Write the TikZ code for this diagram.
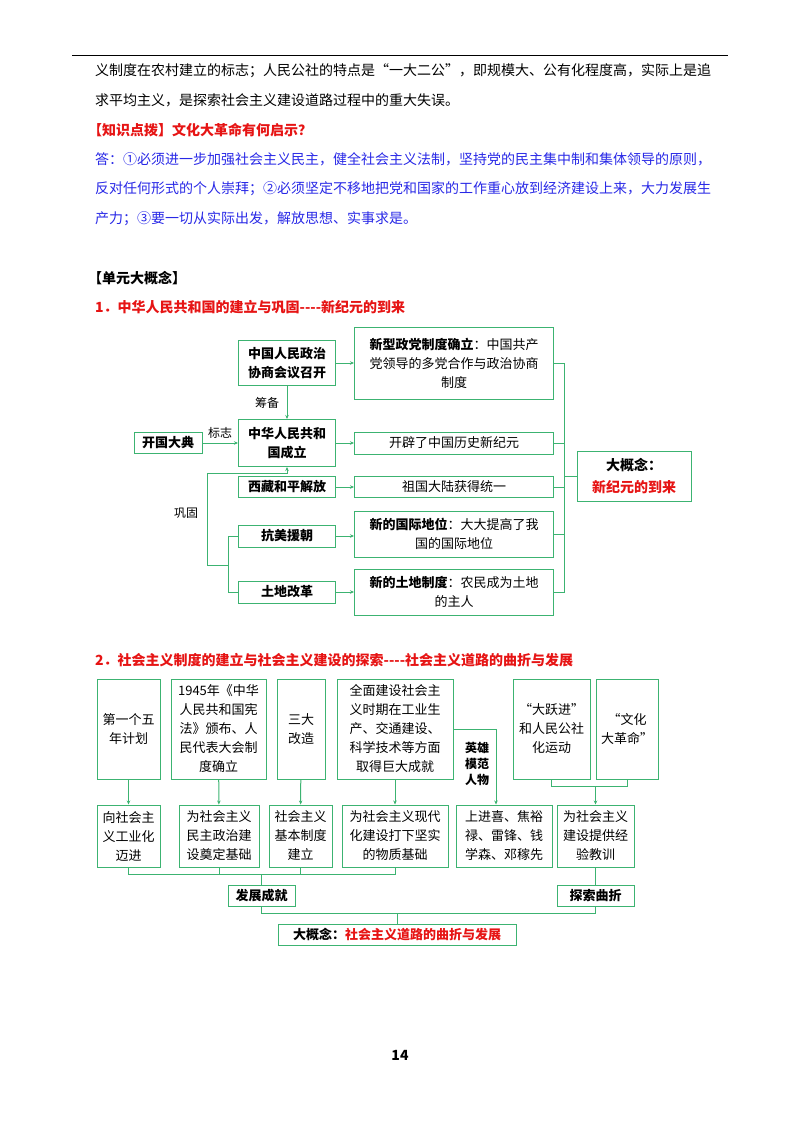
\documentclass[tikz,border=0pt]{standalone}
\usepackage{fontspec}
\setmainfont{Noto Sans CJK SC}
\usetikzlibrary{arrows.meta,positioning}
\definecolor{pgreen}{RGB}{60,179,113}
\definecolor{pred}{RGB}{230,20,20}
\definecolor{pblue}{RGB}{40,40,230}
\tikzset{
  gbox/.style={draw=pgreen, line width=1pt, align=center, inner sep=1pt, font=\fontsize{13}{19}\selectfont},
  bbox/.style={gbox, font=\fontsize{13}{19}\selectfont\bfseries},
  gline/.style={draw=pgreen, line width=1pt},
  garrow/.style={gline, -{Stealth[length=4pt,width=3.5pt]}},
  para/.style={anchor=west, inner sep=0pt, font=\fontsize{14}{14}\selectfont},
  lbl/.style={inner sep=0pt, font=\fontsize{12}{15}\selectfont, align=center}
}
\begin{document}
\begin{tikzpicture}[x=1pt,y=-1pt]
\useasboundingbox (0,0) rectangle (800,1132);

% page text
\draw[line width=0.6pt] (72,55) -- (728,55);
\node[para] (t1) at (95,71) {义制度在农村建立的标志；人民公社的特点是“一大二公”，即规模大、公有化程度高，实际上是追};
\node[para] (t2) at (95,100) {求平均主义，是探索社会主义建设道路过程中的重大失误。};
\node[para, text=pred, font=\fontsize{14}{14}\selectfont\bfseries] (t3) at (88,130) {【知识点拨】文化大革命有何启示？};
\node[para, text=pblue] (t4) at (95,159) {答：①必须进一步加强社会主义民主，健全社会主义法制，坚持党的民主集中制和集体领导的原则，};
\node[para, text=pblue] (t5) at (95,189) {反对任何形式的个人崇拜；②必须坚定不移地把党和国家的工作重心放到经济建设上来，大力发展生};
\node[para, text=pblue] (t6) at (95,219) {产力；③要一切从实际出发，解放思想、实事求是。};
\node[para, font=\fontsize{14}{14}\selectfont\bfseries] (t7) at (88,278) {【单元大概念】};
\node[para, text=pred, font=\fontsize{14}{14}\selectfont\bfseries] (t8) at (95,307) {1．中华人民共和国的建立与巩固{-}{-}{-}{-}新纪元的到来};
\node[para, text=pred, font=\fontsize{14}{14}\selectfont\bfseries] (t9) at (95,660) {2．社会主义制度的建立与社会主义建设的探索{-}{-}{-}{-}社会主义道路的曲折与发展};
\node[inner sep=0pt, font=\fontsize{14}{14}\selectfont\bfseries] (pg) at (400,1055) {14};

% diagram 1
\node[bbox, minimum width=97, minimum height=45] (zx) at (287,363) {中国人民政治\\协商会议召开};
\node[gbox, minimum width=199, minimum height=72] (xx) at (454,363) {\textbf{新型政党制度确立}：中国共产\\党领导的多党合作与政治协商\\制度};
\node[bbox, minimum width=97, minimum height=47] (zh) at (287,443) {中华人民共和\\国成立};
\node[gbox, minimum width=199, minimum height=22] (kp) at (454,443) {开辟了中国历史新纪元};
\node[bbox, minimum width=68, minimum height=21] (kg) at (168,443) {开国大典};
\node[bbox, minimum width=97, minimum height=21] (xz) at (287,487) {西藏和平解放};
\node[gbox, minimum width=199, minimum height=21] (zg) at (454,487) {祖国大陆获得统一};
\node[bbox, minimum width=97, minimum height=22] (km) at (287,536) {抗美援朝};
\node[gbox, minimum width=199, minimum height=46] (gj) at (454,534) {\textbf{新的国际地位}：大大提高了我\\国的国际地位};
\node[bbox, minimum width=97, minimum height=22] (td) at (287,592) {土地改革};
\node[gbox, minimum width=199, minimum height=46] (tz) at (454,592) {\textbf{新的土地制度}：农民成为土地\\的主人};
\node[gbox, minimum width=114, minimum height=50, font=\fontsize{14}{22}\selectfont\bfseries] (dg1) at (634,476) {大概念：\\\textcolor{pred}{新纪元的到来}};
\node[lbl] (cb) at (267,403) {筹备};
\node[lbl] (bz) at (220,433) {标志};
\node[lbl] (gg) at (186,513) {巩固};

\draw[garrow] (zx) -- (zh);
\draw[garrow] (kg) -- (zh);
\draw[garrow] (zx) -- (xx);
\draw[garrow] (zh) -- (kp);
\draw[garrow] (xz) -- (zg);
\draw[garrow] (km.east) -- (km.east -| gj.west);
\draw[garrow] (td) -- (tz);

\coordinate (rx) at (564,0);
\draw[gline] (xx.east) -- (xx.east -| rx) -- (tz.east -| rx) -- (tz.east);
\draw[gline] (kp.east) -- (kp.east -| rx);
\draw[gline] (zg.east) -- (zg.east -| rx);
\draw[gline] (gj.east) -- (gj.east -| rx);
\draw[gline] (dg1.west) -- (dg1.west -| rx);

\coordinate (gt) at (207,473);
\coordinate (gb) at (207,565);
\coordinate (gx) at (228,0);
\draw[garrow] (gb) -- (gt) -- (gt -| zh.south) -- (zh.south);
\draw[gline] (gb) -- (gb -| gx);
\draw[gline] (km.west) -- (km.west -| gx) -- (td.west -| gx) -- (td.west);

% diagram 2
\node[gbox, minimum width=63, minimum height=100] (dy) at (128.5,729) {第一个五\\年计划};
\node[gbox, minimum width=95, minimum height=100] (xf) at (218.5,729) {1945年《中华\\人民共和国宪\\法》颁布、人\\民代表大会制\\度确立};
\node[gbox, minimum width=48, minimum height=100] (sd) at (301,729) {三大\\改造};
\node[gbox, minimum width=116, minimum height=100] (qm) at (395,729) {全面建设社会主\\义时期在工业生\\产、交通建设、\\科学技术等方面\\取得巨大成就};
\node[gbox, minimum width=77, minimum height=100] (dyj) at (551.5,729) {“大跃进”\\和人民公社\\化运动};
\node[gbox, minimum width=62, minimum height=100] (wg) at (627,729) {“文化\\大革命”};

\node[gbox, minimum width=63, minimum height=62] (xs) at (128.5,836) {向社会主\\义工业化\\迈进};
\node[gbox, minimum width=80, minimum height=62] (wm) at (219,836) {为社会主义\\民主政治建\\设奠定基础};
\node[gbox, minimum width=63, minimum height=62] (jb) at (300.5,836) {社会主义\\基本制度\\建立};
\node[gbox, minimum width=106, minimum height=62] (wx) at (395,836) {为社会主义现代\\化建设打下坚实\\的物质基础};
\node[gbox, minimum width=96, minimum height=62] (sj) at (504,836) {上进喜、焦裕\\禄、雷锋、钱\\学森、邓稼先};
\node[gbox, minimum width=77, minimum height=62] (jy) at (595.5,836) {为社会主义\\建设提供经\\验教训};

\node[bbox, minimum width=67, minimum height=21] (fz) at (261.5,895.5) {发展成就};
\node[bbox, minimum width=77, minimum height=21] (ts) at (595.5,895.5) {探索曲折};
\node[bbox, minimum width=238, minimum height=21] (dg2) at (397,934.5) {大概念：\textcolor{pred}{社会主义道路的曲折与发展}};
\node[lbl, font=\fontsize{12}{16}\selectfont\bfseries] (yx) at (477,764) {英雄\\模范\\人物};

\draw[garrow] (dy) -- (xs);
\draw[garrow] (xf) -- (wm);
\draw[garrow] (sd) -- (jb);
\draw[garrow] (qm) -- (wx);
\draw[garrow] (qm.east |- 0,729) -| (sj.north -| 496,0);

\coordinate (wy) at (0,786);
\draw[gline] (dyj.south) -- (dyj.south |- wy) -- (wg.south |- wy) -- (wg.south);
\draw[garrow] (jy.north |- wy) -- (jy.north);

\coordinate (fy) at (0,874);
\draw[gline] (xs.south) -- (xs.south |- fy) -- (wx.south |- fy) -- (wx.south);
\draw[gline] (wm.south) -- (wm.south |- fy);
\draw[gline] (jb.south) -- (jb.south |- fy);
\draw[gline] (fz.north |- fy) -- (fz.north);
\draw[gline] (jy.south) -- (ts.north);

\coordinate (dy2) at (0,913);
\draw[gline] (fz.south) -- (fz.south |- dy2) -- (ts.south |- dy2) -- (ts.south);
\draw[gline] (dg2.north |- dy2) -- (dg2.north);
\end{tikzpicture}
\end{document}
